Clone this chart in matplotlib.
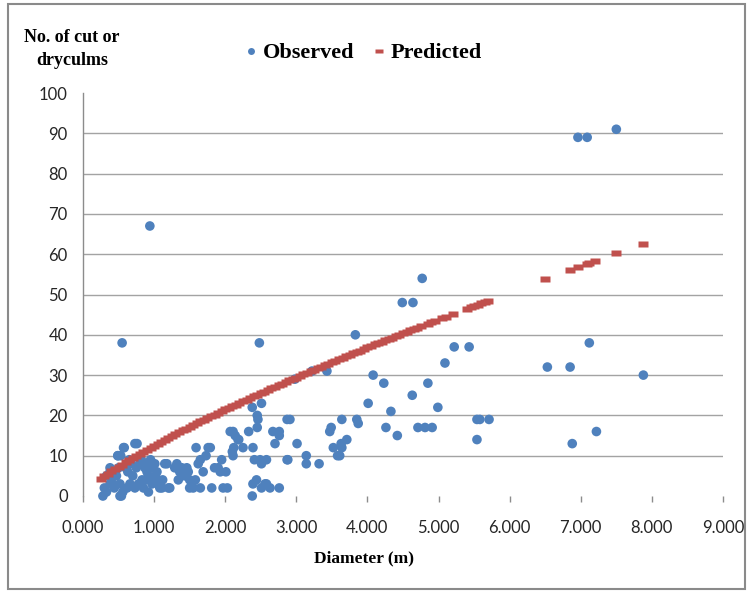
import matplotlib
matplotlib.use("Agg")
import matplotlib.pyplot as plt
from matplotlib.lines import Line2D
from matplotlib.patches import Rectangle

# ---------------- data ----------------
obs_x = [0.28, 0.30, 0.33, 0.33, 0.38, 0.38, 0.38, 0.40, 0.42, 0.44, 0.45, 0.47, 0.49, 0.49,
         0.50, 0.52, 0.52, 0.53, 0.54, 0.55, 0.56, 0.57, 0.58, 0.60, 0.62, 0.63, 0.65, 0.66,
         0.68, 0.70, 0.73, 0.73, 0.75, 0.76, 0.78, 0.80, 0.82, 0.83, 0.85, 0.87, 0.87, 0.88,
         0.90, 0.92, 0.92, 0.94, 0.95, 0.97, 0.97, 0.99, 1.01, 1.02, 1.04, 1.06, 1.08, 1.11,
         1.12, 1.15, 1.18, 1.20, 1.22, 1.29, 1.32, 1.34, 1.36, 1.39, 1.43, 1.46, 1.48, 1.50,
         1.50, 1.53, 1.55, 1.58, 1.59, 1.62, 1.65, 1.65, 1.69, 1.73, 1.76, 1.79, 1.81, 1.85,
         1.90, 1.93, 1.95, 1.97, 2.01, 2.03,
         2.07, 2.10, 2.11, 2.11, 2.12, 2.14, 2.18, 2.19, 2.25, 2.33, 2.38, 2.38, 2.39, 2.39,
         2.41, 2.44, 2.45, 2.45, 2.46, 2.48, 2.49, 2.51, 2.51, 2.51, 2.56, 2.58, 2.58, 2.63,
         2.67, 2.70, 2.76, 2.76, 2.76, 2.87, 2.87, 2.88, 2.91, 2.98, 3.01,
         3.14, 3.14, 3.22, 3.32, 3.43, 3.47, 3.49, 3.52, 3.58, 3.61, 3.63, 3.64, 3.64, 3.71,
         3.83, 3.85, 3.87, 4.01, 4.08,
         4.23, 4.26, 4.33, 4.42, 4.49, 4.63, 4.64, 4.71, 4.77, 4.81, 4.85, 4.91, 4.99, 5.09,
         5.22, 5.43, 5.54, 5.54, 5.58, 5.71,
         6.53, 6.85, 6.88, 6.96, 7.09, 7.12, 7.22, 7.50, 7.88]
obs_y = [0, 2, 1, 5, 7, 6, 3, 5, 3, 2, 6, 5, 10, 10,
         7, 3, 0, 10, 0, 38, 1, 12, 12, 7, 2, 6, 9, 3,
         8, 5, 2, 13, 7, 13, 3, 8, 9, 4, 2, 7, 8, 4,
         6, 5, 1, 67, 9, 3, 7, 4, 8, 5, 6, 3, 2, 2,
         4, 8, 8, 2, 2, 7, 8, 4, 6, 7, 5, 7, 6, 4,
         2, 3, 2, 4, 12, 8, 9, 2, 6, 10, 12, 12, 2, 7,
         7, 6, 9, 2, 6, 2,
         16, 11, 16, 10, 12, 15, 14, 14, 12, 16, 22, 0, 12, 3,
         9, 4, 20, 17, 19, 38, 9, 23, 8, 2, 3, 9, 3, 2,
         16, 13, 16, 15, 2, 19, 9, 9, 19, 29, 13,
         10, 8, 31, 8, 31, 16, 17, 12, 10, 10, 13, 12, 19, 14,
         40, 19, 18, 23, 30,
         28, 17, 21, 15, 48, 25, 48, 17, 54, 17, 28, 17, 22, 33,
         37, 37, 19, 14, 19, 19,
         32, 32, 13, 89, 89, 38, 16, 91, 30]

pred_x = [0.25, 0.30, 0.35, 0.40, 0.45, 0.50, 0.55, 0.60, 0.65, 0.70, 0.75, 0.80, 0.85, 0.90,
          0.95, 1.00, 1.05, 1.10, 1.15, 1.20, 1.25, 1.30, 1.35, 1.40, 1.45, 1.50, 1.55, 1.60,
          1.65, 1.70, 1.75, 1.80, 1.85, 1.90, 1.95, 2.00, 2.05, 2.10, 2.15, 2.20, 2.25, 2.30,
          2.35, 2.40, 2.45, 2.50, 2.55, 2.60, 2.65, 2.70, 2.75, 2.80, 2.85, 2.90, 2.95, 3.00,
          3.05, 3.10, 3.15, 3.20, 3.25, 3.30, 3.35, 3.40, 3.45, 3.50, 3.55, 3.60, 3.65, 3.70,
          3.75, 3.80, 3.85, 3.90, 3.95, 4.00, 4.05, 4.10, 4.15, 4.20, 4.25, 4.30, 4.35, 4.40,
          4.45, 4.50, 4.55, 4.60, 4.65, 4.70, 4.75, 4.85, 4.90, 4.95, 5.05, 5.10, 5.20, 5.40,
          5.45, 5.50, 5.55, 5.60, 5.65, 5.70, 6.50, 6.85, 6.96, 7.09, 7.12, 7.20, 7.50, 7.88]
pred_y = [4.2, 4.9, 5.5, 6.1, 6.7, 7.3, 7.8, 8.4, 8.9, 9.5, 10.0, 10.5, 11.0, 11.5,
          12.0, 12.5, 13.0, 13.5, 13.9, 14.4, 14.9, 15.3, 15.8, 16.3, 16.7, 17.2, 17.6, 18.0,
          18.5, 18.9, 19.4, 19.8, 20.2, 20.6, 21.1, 21.5, 21.9, 22.3, 22.7, 23.1, 23.5, 23.9,
          24.3, 24.7, 25.1, 25.5, 25.9, 26.3, 26.7, 27.1, 27.5, 27.9, 28.3, 28.7, 29.0, 29.4,
          29.8, 30.2, 30.6, 31.0, 31.3, 31.7, 32.1, 32.5, 32.8, 33.2, 33.6, 33.9, 34.3, 34.7,
          35.0, 35.4, 35.7, 36.1, 36.5, 36.9, 37.2, 37.6, 37.9, 38.3, 38.6, 39.0, 39.3, 39.7,
          40.0, 40.4, 40.7, 41.1, 41.4, 41.8, 42.1, 42.8, 43.2, 43.5, 44.2, 44.5, 45.2, 46.5,
          46.8, 47.1, 47.5, 47.8, 48.1, 48.4, 53.8, 56.1, 56.8, 57.6, 57.8, 58.3, 60.2, 62.5]

x_ticks = [0, 1, 2, 3, 4, 5, 6, 7, 8, 9]
x_tick_labels = ["0.000", "1.000", "2.000", "3.000", "4.000", "5.000",
                 "6.000", "7.000", "8.000", "9.000"]
y_ticks = [0, 10, 20, 30, 40, 50, 60, 70, 80, 90, 100]
y_tick_labels = ["0", "10", "20", "30", "40", "50", "60", "70", "80", "90", "100"]

series_names = ["Observed", "Predicted"]
x_label = "Diameter (m)"
y_label = "No. of cut or\ndryculms"

# ---------------- style ----------------
BLUE = "#4F81BD"
RED = "#C0504D"
GRID = "#A3A3A3"
TXT = "#262626"
serif_bold = dict(family="Liberation Serif", weight="bold")

dash = [(-1.0, -0.6), (1.0, -0.6), (1.0, 0.6), (-1.0, 0.6), (-1.0, -0.6)]

fig = plt.figure(figsize=(7.5, 5.92), dpi=100)
W, H = 750.0, 592.0
ax = fig.add_axes([83 / W, 1 - 496 / H, (723 - 83) / W, (496 - 93) / H])

ax.scatter(obs_x, obs_y, s=48, color=BLUE, edgecolors="none", zorder=3, clip_on=False)
ax.plot(pred_x, pred_y, linestyle="none", marker=dash, markersize=7.2,
        markerfacecolor=RED, markeredgecolor="none", zorder=4)

ax.set_xlim(0, 9)
ax.set_ylim(0, 100)
ax.set_xticks(x_ticks)
ax.set_xticklabels(x_tick_labels)
ax.set_yticks(y_ticks)
ax.set_yticklabels(y_tick_labels)

for lab in ax.get_xticklabels() + ax.get_yticklabels():
    lab.set_family("Lato")
    lab.set_fontsize(12)
    lab.set_color(TXT)

ax.tick_params(axis="x", direction="out", length=4, width=1, color="#8C8C8C", pad=13)
ax.tick_params(axis="y", length=0, pad=11)

ax.yaxis.grid(True, color=GRID, linewidth=1.0)
ax.set_axisbelow(True)
gl = ax.get_ygridlines()
gl[0].set_visible(False)
gl[-1].set_visible(False)

for side in ("top", "right", "bottom"):
    ax.spines[side].set_visible(False)
ax.spines["left"].set_color("#8C8C8C")
ax.spines["left"].set_linewidth(1.0)

# axis titles
fig.text(364 / W, 1 - 558 / H, x_label, ha="center", va="center",
         fontsize=12.5, color="black", **serif_bold)
fig.text(72 / W, 1 - 49 / H, y_label, ha="center", va="center",
         fontsize=13, color="black", linespacing=1.4, **serif_bold)

# legend
handles = [
    Line2D([], [], linestyle="none", marker="o", markersize=5,
           markerfacecolor=BLUE, markeredgecolor="none"),
    Line2D([], [], linestyle="none", marker=dash, markersize=5.5,
           markerfacecolor=RED, markeredgecolor="none"),
]
fig.legend(handles, series_names, loc="center left",
           bbox_to_anchor=(245 / W, 1 - 53 / H), ncol=2, frameon=False,
           borderpad=0, borderaxespad=0, handlelength=0.5, handletextpad=0.3,
           columnspacing=0.85,
           prop=dict(family="Liberation Serif", weight="bold", size=16))

# outer border
fig.add_artist(Rectangle((8 / W, 3 / H), (745 - 8) / W, (588 - 3) / H,
                         transform=fig.transFigure, fill=False,
                         edgecolor="#8A8A8A", linewidth=1.5))

fig.savefig("out.png", dpi=100)
